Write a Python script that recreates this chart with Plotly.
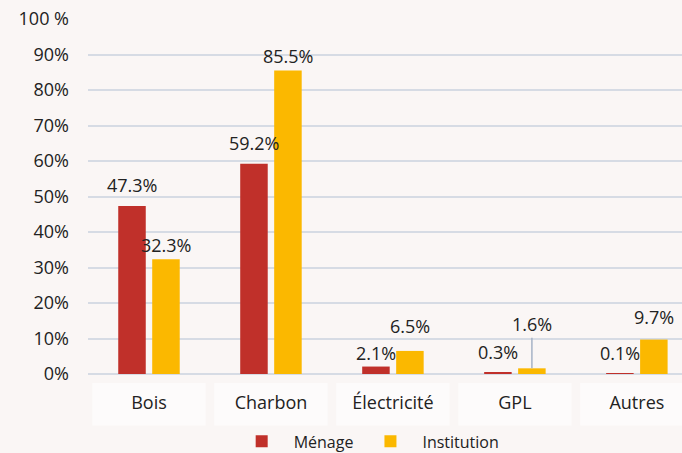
import plotly.graph_objects as go

categories = ["Bois", "Charbon", "Électricité", "GPL", "Autres"]
menage = [47.3, 59.2, 2.1, 0.3, 0.1]
institution = [32.3, 85.5, 6.5, 1.6, 9.7]
series_names = ["Ménage", "Institution"]
y_ticks = [0, 10, 20, 30, 40, 50, 60, 70, 80, 90, 100]
y_tick_labels = ["0%", "10%", "20%", "30%", "40%", "50%", "60%", "70%", "80%", "90%", "100 %"]

# label styling (pixel offsets above bar tops)
menage_label_shift = [21, 21, 14, 21, 21]
inst_label_shift = [14, 14, 25, 44, 23]
leader_line = [False, False, False, True, False]

RED = "#c0302a"
YELLOW = "#fbb800"
BG = "#faf6f5"
GRID = "#d6dbe4"
FONT = "Open Sans, sans-serif"
TXT = "#222222"

fig = go.Figure()
fig.add_trace(go.Bar(x=categories, y=menage, name=series_names[0], marker_color=RED,
                     marker_line_width=0))
fig.add_trace(go.Bar(x=categories, y=institution, name=series_names[1], marker_color=YELLOW,
                     marker_line_width=0))

annotations = []
for i, c in enumerate(categories):
    annotations.append(dict(x=c, y=menage[i], xref="x", yref="y", text=f"{menage[i]:.1f}%",
                            showarrow=False, xshift=-17, yshift=menage_label_shift[i],
                            yanchor="middle", font=dict(size=18, color=TXT, family=FONT)))
    if leader_line[i]:
        annotations.append(dict(x=c, y=institution[i], xref="x", yref="y",
                                text=f"{institution[i]:.1f}%", showarrow=True, arrowhead=0,
                                arrowwidth=1.5, arrowcolor="#a7b3c6", ax=0,
                                ay=-inst_label_shift[i], xshift=17, standoff=0,
                                font=dict(size=18, color=TXT, family=FONT)))
    else:
        annotations.append(dict(x=c, y=institution[i], xref="x", yref="y",
                                text=f"{institution[i]:.1f}%", showarrow=False, xshift=17,
                                yshift=inst_label_shift[i], yanchor="middle",
                                font=dict(size=18, color=TXT, family=FONT)))

shapes = []
for i, c in enumerate(categories):
    shapes.append(dict(type="rect", xref="x", yref="paper", x0=i - 0.465, x1=i + 0.465,
                       y0=-0.025, y1=-0.145, fillcolor="#fdfbfb", line_width=0, layer="below"))

fig.update_layout(
    width=682, height=453,
    paper_bgcolor=BG, plot_bgcolor=BG,
    margin=dict(l=88, r=0, t=19, b=79, autoexpand=False),
    barmode="group", bargap=0.443, bargroupgap=0.19,
    font=dict(family=FONT, color=TXT, size=18),
    showlegend=True,
    legend=dict(orientation="h", x=0.47, xanchor="center", y=-0.19, yanchor="middle",
                font=dict(size=16, family=FONT, color=TXT), itemwidth=54,
                bgcolor="rgba(0,0,0,0)"),
    annotations=annotations,
    shapes=shapes,
)
fig.update_xaxes(range=[-0.5, 4.37], showgrid=False, showline=False, ticks="",
                 tickfont=dict(size=18, family=FONT, color=TXT), ticklabelstandoff=16,
                 fixedrange=True, automargin=False)
fig.update_yaxes(range=[0, 100], tickvals=y_ticks, ticktext=y_tick_labels,
                 showgrid=True, gridcolor=GRID, gridwidth=2, zeroline=True,
                 zerolinecolor=GRID, zerolinewidth=2, showline=False, ticks="",
                 tickfont=dict(size=18, family=FONT, color=TXT), ticklabelstandoff=18,
                 automargin=False, fixedrange=True)

fig.write_html("out.html", config={"displayModeBar": False},
               post_script="document.body.style.margin='0';document.body.style.padding='0';"
                           "document.body.style.overflow='hidden';")
